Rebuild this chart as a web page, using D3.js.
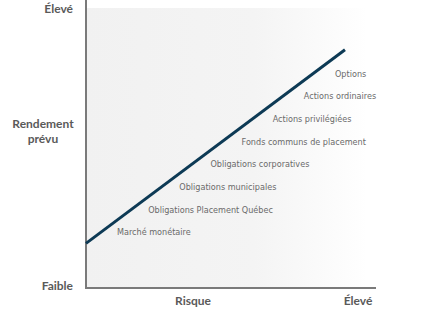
<!DOCTYPE html>
<html><head><meta charset="utf-8">
<script src="https://cdn.jsdelivr.net/npm/d3@7"></script>
<style>html,body{margin:0;padding:0;background:#fff;}</style>
</head><body>
<svg id="c" width="442" height="309"></svg>
<script>
// Categories, ordered from lowest to highest risk/return
const categories = ["Marché monétaire","Obligations Placement Québec","Obligations municipales","Obligations corporatives","Fonds communs de placement","Actions privilégiées","Actions ordinaires","Options"];
const riskLevels = [0,1,2,3,4,5,6,7];
// Risk/return line (normalized 0..1)
const lineRisk = [0, 0.893];
const lineReturn = [0.155, 0.827];
const yTickLabels = ["Faible","Élevé"];
const xTickLabels = ["Risque","Élevé"];

const svg = d3.select("#c");
const x = d3.scaleLinear().domain([0,1]).range([86,376]);
const y = d3.scaleLinear().domain([0,1]).range([288,0]);
const lx = d3.scaleLinear().domain([0,7]).range([117,335]);
const ly = d3.scaleLinear().domain([0,7]).range([232,73.5]);

const defs = svg.append("defs");
const g = defs.append("linearGradient").attr("id","bg").attr("x1","0").attr("x2","1").attr("y1","0").attr("y2","0");
g.append("stop").attr("offset","0").attr("stop-color","#f1f1f1");
g.append("stop").attr("offset","0.6").attr("stop-color","#f4f4f4");
g.append("stop").attr("offset","1").attr("stop-color","#ffffff");
svg.append("rect").attr("x",x(0)).attr("y",8).attr("width",x(0.97)-x(0)).attr("height",y(0)-8).attr("fill","url(#bg)");

// axes
svg.append("line").attr("x1",x(0)).attr("x2",x(0)).attr("y1",0).attr("y2",y(0)+1).attr("stroke","#7a7a7a").attr("stroke-width",2);
svg.append("line").attr("x1",x(0)-1).attr("x2",x(1)).attr("y1",y(0)).attr("y2",y(0)).attr("stroke","#7a7a7a").attr("stroke-width",2);

// line
const pts = lineRisk.map((r,i)=>[x(r), y(lineReturn[i])]);
svg.append("path").attr("d", d3.line()(pts)).attr("stroke","#0d3a55").attr("stroke-width",3).attr("fill","none");

// category labels
svg.selectAll("text.cat").data(categories).join("text").attr("class","cat")
  .attr("x",(d,i)=>lx(riskLevels[i])).attr("y",(d,i)=>ly(riskLevels[i]))
  .attr("dy","0.35em")
  .attr("font-family","'DejaVu Sans Condensed','DejaVu Sans',sans-serif").attr("font-size",9)
  .attr("fill","#6a6a6a").text(d=>d);

const axisFont = "Lato, 'Open Sans', sans-serif";
function lab(t, xx, yy, anchor){
  svg.append("text").attr("x",xx).attr("y",yy).attr("text-anchor",anchor)
    .attr("font-family",axisFont).attr("font-weight","bold").attr("font-size",12).attr("fill","#5a5a5a").text(t);
}
lab(yTickLabels[1], 73, 13, "end");
lab(yTickLabels[0], 73, 290, "end");
lab("Rendement", 43, 128, "middle");
lab("prévu", 43, 143, "middle");
lab(xTickLabels[0], 193, 305, "middle");
lab(xTickLabels[1], 358, 305, "middle");
</script>
</body></html>
